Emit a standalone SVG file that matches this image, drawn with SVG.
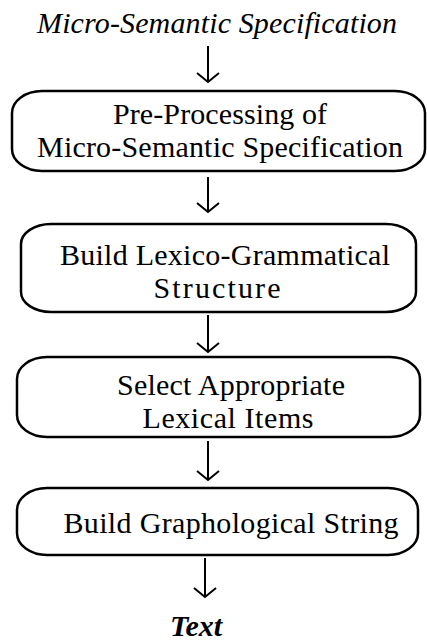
<svg xmlns="http://www.w3.org/2000/svg" width="427" height="641" viewBox="0 0 427 641">
<style>
.box{fill:#fff;stroke:#000;stroke-width:2.5}
.conn{stroke:#000;stroke-width:2;fill:none;marker-end:url(#ah)}
.f{font-family:"Liberation Serif","Times New Roman",Times,serif;font-size:30px;text-anchor:middle;fill:#000}
</style>
<defs>
<marker id="ah" markerUnits="userSpaceOnUse" viewBox="-12 -13 14 26" markerWidth="14" markerHeight="26" refX="0" refY="0" orient="auto" overflow="visible">
<path d="M-9,-11 L0,0 L-9,11" fill="none" stroke="#000" stroke-width="2"/>
</marker>
</defs>
<g id="input"><text class="f" font-style="italic" x="217" y="33" textLength="360" lengthAdjust="spacing">Micro-Semantic Specification</text></g>
<g id="preprocess">
<rect class="box" x="12" y="91" width="413" height="80" rx="30" ry="22"/>
<text class="f" x="220" y="124" textLength="214" lengthAdjust="spacing">Pre-Processing of</text>
<text class="f" x="220" y="157" textLength="366" lengthAdjust="spacing">Micro-Semantic Specification</text>
</g>
<g id="build-lexico">
<rect class="box" x="21" y="224" width="395" height="88" rx="30" ry="20"/>
<text class="f" x="225" y="265" textLength="330" lengthAdjust="spacing">Build Lexico-Grammatical</text>
<text class="f" x="217" y="298" textLength="127" lengthAdjust="spacing">Structure</text>
</g>
<g id="select-lexical">
<rect class="box" x="17" y="357" width="403" height="80" rx="30" ry="22"/>
<text class="f" x="231" y="395" textLength="228" lengthAdjust="spacing">Select Appropriate</text>
<text class="f" x="228" y="428" textLength="171" lengthAdjust="spacing">Lexical Items</text>
</g>
<g id="build-graph">
<rect class="box" x="17" y="488" width="401" height="67" rx="30" ry="22"/>
<text class="f" x="231" y="533" textLength="335" lengthAdjust="spacing">Build Graphological String</text>
</g>
<g id="output"><text class="f" font-style="italic" font-weight="bold" x="196" y="636">Text</text></g>
<g id="connectors">
<path class="conn" d="M208,46 V82"/>
<path class="conn" d="M208,177 V212"/>
<path class="conn" d="M208,315 V352"/>
<path class="conn" d="M208,441 V480"/>
<path class="conn" d="M205,558 V597"/>
</g>
</svg>
